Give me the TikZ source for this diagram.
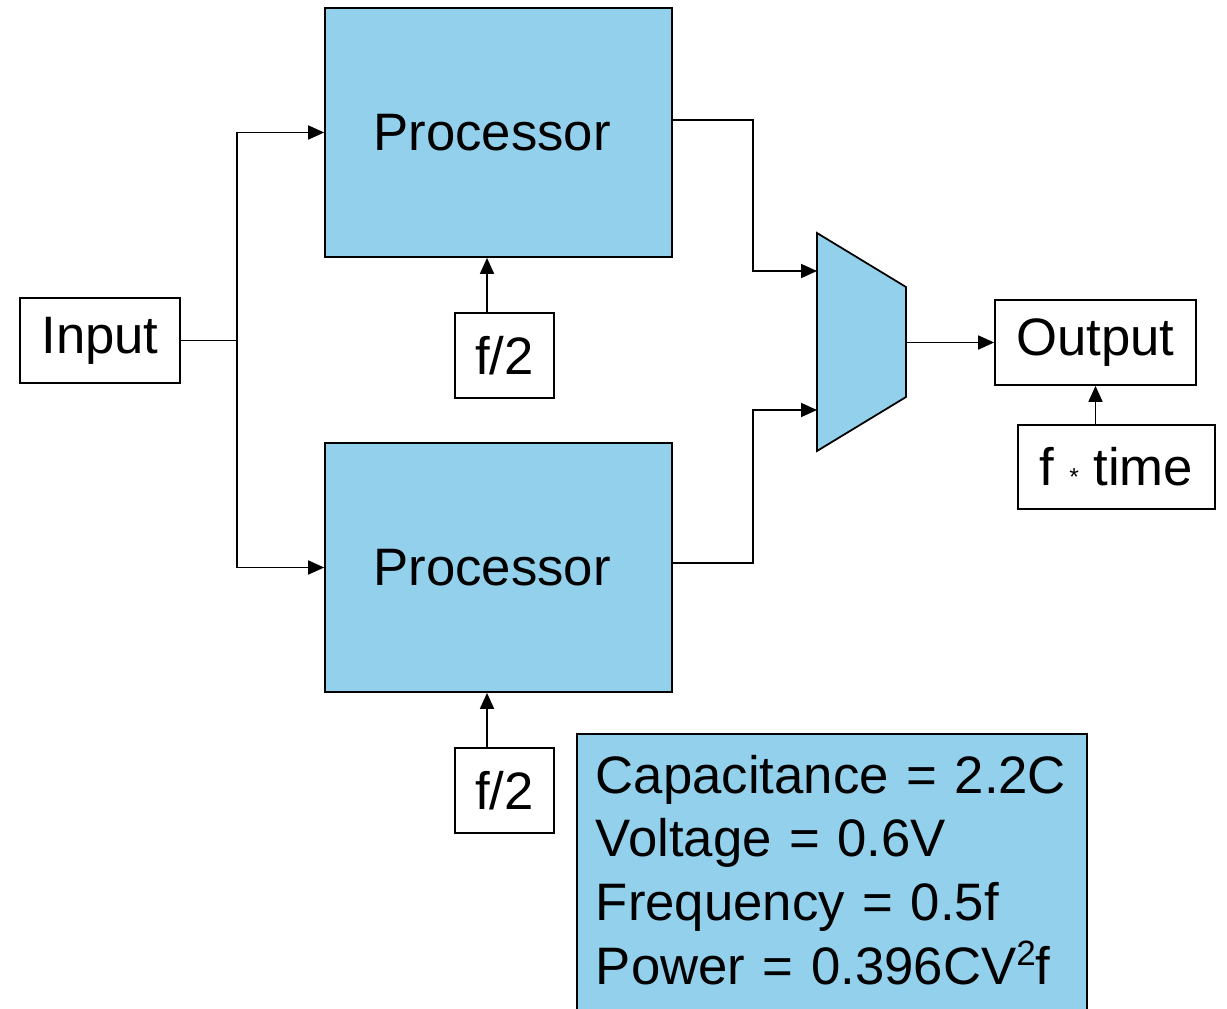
\documentclass[tikz,border=0pt]{standalone}
\usepackage{fontspec}
\setmainfont{Liberation Sans}
\usetikzlibrary{arrows.meta}
\definecolor{procblue}{RGB}{146,208,236}

\begin{document}
\begin{tikzpicture}[x=0.02cm, y=-0.02cm, line width=1pt,
  >={Triangle[length=0.32cm,width=0.28cm]},
  every node/.style={font=\fontsize{30}{36.3}\selectfont},
  proc/.style={draw, fill=procblue, minimum width=6.94cm, minimum height=4.98cm, inner sep=0},
  smallbox/.style={draw, fill=white, minimum height=1.7cm, inner sep=0}]

\useasboundingbox (0,0) rectangle (1227,1008);

% Input and the two processors
\node[smallbox, minimum width=3.2cm] (input) at (100,340.5) {Input};
\node[proc] (proctop) at (498.5,132.5) {Processor\kern0.26cm};
\node[proc] (procbot) at (498.5,567.5) {Processor\kern0.26cm};

% Clock inputs
\node[smallbox, minimum width=1.98cm] (fhalftop) at (504.5,355.5) {f/2};
\node[smallbox, minimum width=1.98cm] (fhalfbot) at (504.5,790.5) {f/2};

% Output side
\node[smallbox, minimum width=4.02cm] (output) at (1095.5,342.5) {Output};
\node[smallbox, minimum width=3.94cm, minimum height=1.68cm] (ftime) at (1116.5,467) {f {\fontsize{14}{14}\selectfont *} time};

% Multiplexer
\draw[fill=procblue] (817,233) -- (906,287) -- (906,397) -- (817,451) -- cycle;
\coordinate (muxtop) at (817,271);
\coordinate (muxbot) at (817,410);
\coordinate (muxout) at (906,342.5);
\coordinate (split) at (237,340.5);

% Wires
\draw (input.east) -- (split);
\draw[->] (split) |- (proctop.west);
\draw[->] (split) |- (procbot.west);
\draw[->] ([yshift=0.25cm]proctop.east) -- ++(80,0) |- (muxtop);
\draw[->] ([yshift=0.09cm]procbot.east) -- ++(80,0) |- (muxbot);
\draw[->] (muxout) -- (output.west);
\draw[->] ([xshift=-0.35cm]fhalftop.north) -- ([xshift=-0.35cm]fhalftop.north |- proctop.south);
\draw[->] ([xshift=-0.35cm]fhalfbot.north) -- ([xshift=-0.35cm]fhalfbot.north |- procbot.south);
\draw[->] (ftime.north -| output.south) -- (output.south);

% Summary
\node[draw, fill=procblue, anchor=north west, align=left, inner xsep=0.38cm, inner ysep=0.42cm, text width=9.44cm] (summary) at (576,733)
  {Capacitance = 2.2C\\ Voltage = 0.6V\\ Frequency = 0.5f\\ Power = 0.396CV{\fontsize{20}{20}\selectfont\raisebox{0.55em}{2}}f\rule[-1cm]{0pt}{0pt}};

\end{tikzpicture}
\end{document}
